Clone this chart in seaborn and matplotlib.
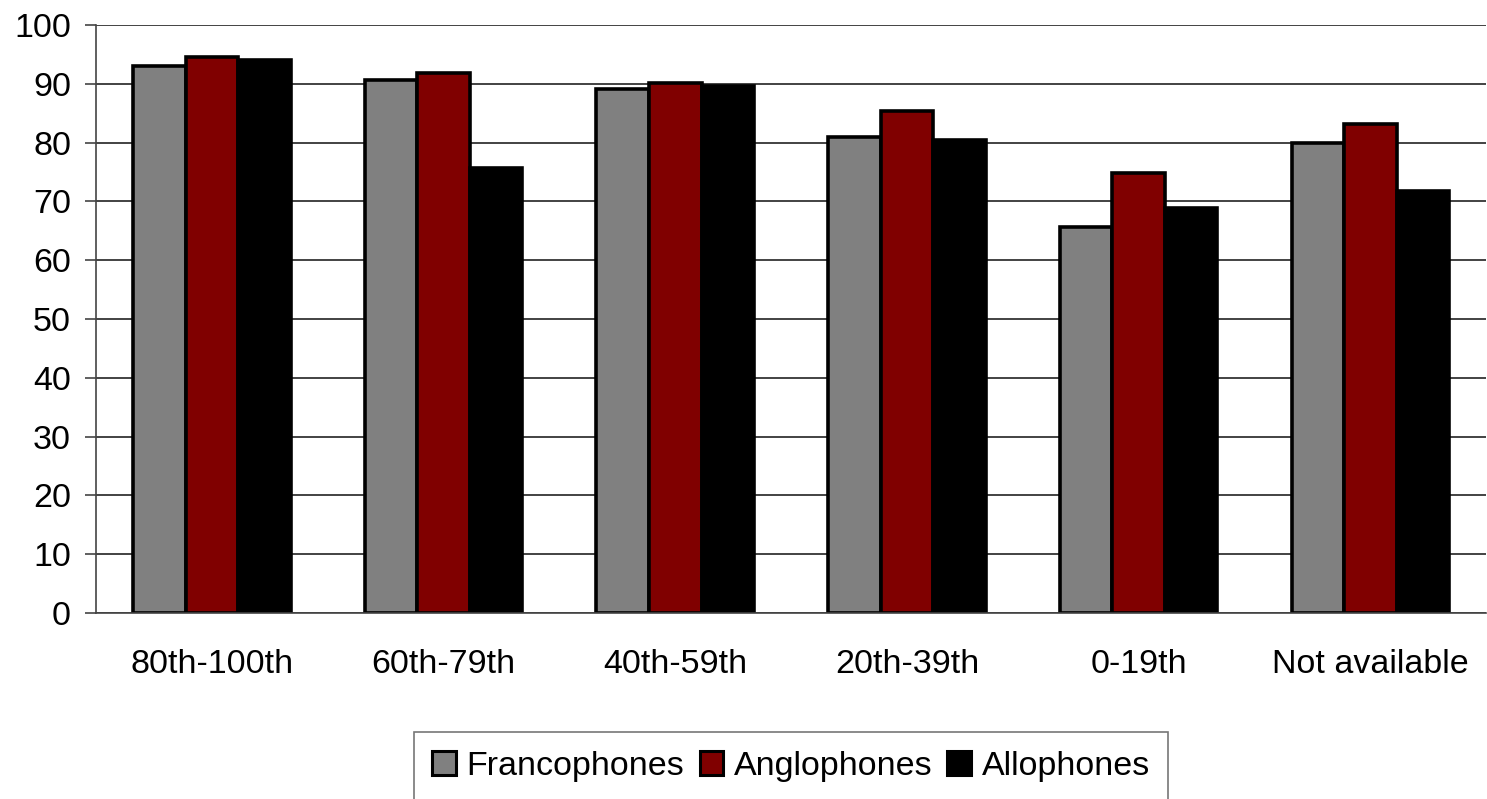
import matplotlib
matplotlib.use("Agg")
import matplotlib.pyplot as plt
from matplotlib.patches import Patch
import seaborn as sns
import pandas as pd

categories = ["80th-100th", "60th-79th", "40th-59th", "20th-39th", "0-19th", "Not available"]
francophones = [93.0, 90.7, 89.1, 81.0, 65.6, 79.9]
anglophones = [94.6, 91.8, 90.2, 85.3, 74.9, 83.2]
allophones = [94.1, 75.6, 89.7, 80.5, 68.9, 71.7]
series_names = ["Francophones", "Anglophones", "Allophones"]
colors = ["#808080", "#800000", "#000000"]
yticks = list(range(0, 101, 10))

df = pd.DataFrame({
    "group": categories * 3,
    "series": [s for s in series_names for _ in categories],
    "value": francophones + anglophones + allophones,
})

sns.set_style("white")
plt.rcParams["font.family"] = ["Liberation Sans", "DejaVu Sans"]
plt.rcParams["text.color"] = "black"
plt.rcParams["xtick.color"] = "black"
plt.rcParams["ytick.color"] = "black"

fig = plt.figure(figsize=(14.87, 7.99), dpi=100)
ax = fig.add_axes([96 / 1487, 1 - 613 / 799, 1 - 96 / 1487 - 0.0005, (613 - 25) / 799])

sns.barplot(data=df, x="group", y="value", hue="series", order=categories,
            hue_order=series_names, palette=colors, width=0.68,
            edgecolor="black", linewidth=2.6, saturation=1, ax=ax, legend=False)

ax.set_ylim(0, 100)
ax.set_xlim(-0.5, len(categories) - 0.5)
ax.set_yticks(yticks)
ax.set_yticklabels([str(v) for v in yticks])
ax.yaxis.grid(True, color="#222222", linewidth=1.2)
ax.set_axisbelow(True)

for side in ["top", "right"]:
    ax.spines[side].set_visible(False)
ax.spines["left"].set_color("#444444")
ax.spines["bottom"].set_color("#444444")
ax.spines["left"].set_linewidth(1.2)
ax.spines["bottom"].set_linewidth(1.2)

ax.set_xticks([i - 0.5 for i in range(len(categories) + 1)], minor=True)
ax.tick_params(axis="x", which="major", length=0, pad=26, labelsize=24.5)
ax.tick_params(axis="x", which="minor", length=8, width=1.2, color="#444444", direction="out")
ax.tick_params(axis="y", which="major", length=8, width=1.2, color="#444444",
               direction="out", pad=10, labelsize=24.5, left=True)
ax.set_xlabel("")
ax.set_ylabel("")

handles = [Patch(facecolor=c, edgecolor="black", linewidth=2.2) for c in colors]
leg = fig.legend(handles, series_names, loc="upper center",
                 bbox_to_anchor=(0.532, 1 - 732 / 799), ncol=3, fontsize=24.5,
                 frameon=True, fancybox=False, handlelength=0.7, handleheight=0.7,
                 handletextpad=0.3, columnspacing=0.45, borderpad=0.55,
                 borderaxespad=0)
leg.get_frame().set_edgecolor("#555555")
leg.get_frame().set_linewidth(1.2)

fig.savefig("out.png", dpi=100)
